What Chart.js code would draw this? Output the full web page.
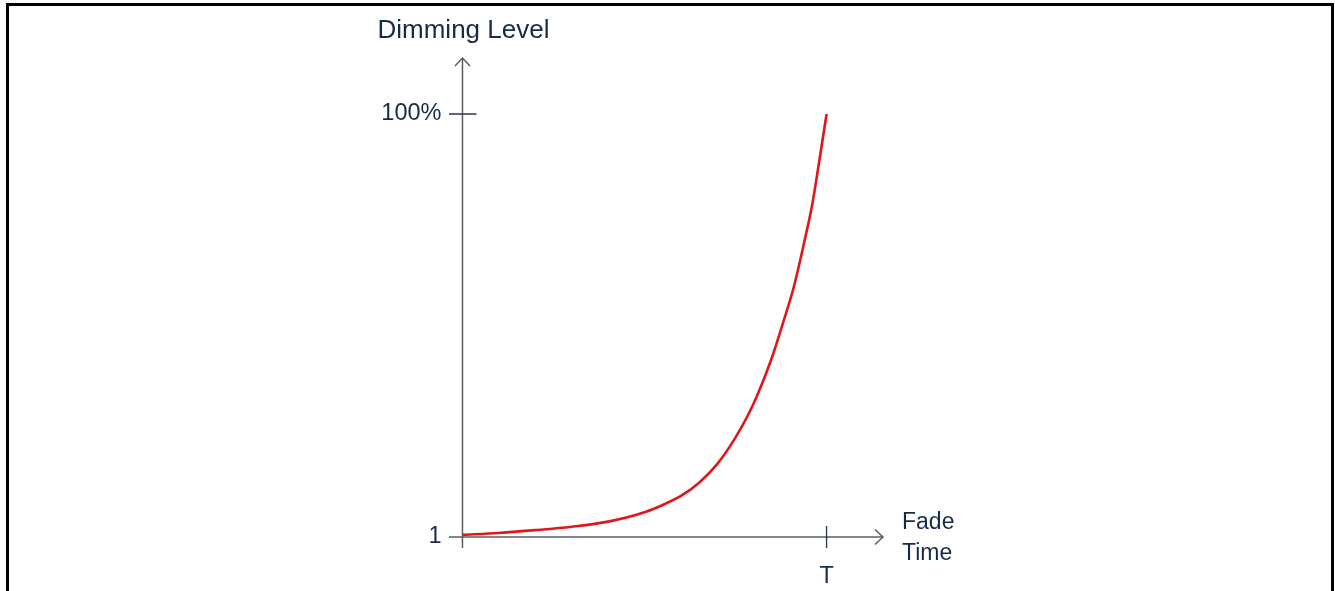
<!DOCTYPE html>
<html>
<head>
<meta charset="utf-8">
<script src="https://cdn.jsdelivr.net/npm/chart.js@4.4.0/dist/chart.umd.min.js"></script>
<style>
  html, body { margin: 0; padding: 0; background: #fff; }
  #wrap { position: relative; width: 1335px; height: 591px; overflow: hidden; }
  #frame { position: absolute; left: 6px; top: 3px; width: 1322px; height: 700px;
           border: 3px solid #000; box-sizing: content-box; }
  canvas { position: absolute; left: 0; top: 0; }
</style>
</head>
<body>
<div id="wrap">
  <div id="frame"></div>
  <canvas id="fade" width="1335" height="591"></canvas>
</div>
<script>
// fade time (0..100 = T) and dimming level (1..100 %)
const fadeTime = [0, 10, 20, 30, 40, 50, 55, 60, 65, 70, 75, 80, 85, 88, 91, 94, 96, 98, 100];
const dimLevel = [1.5, 1.95, 2.6, 3.4, 4.6, 6.8, 8.5, 10.6, 13.7, 18.1, 24.3, 32.3, 43.0, 51.0, 59.5, 70.5, 78.5, 89.0, 100];

const yTickValues = [1, 100];
const yTickLabels = ["1", "100%"];
const xTickValues = [100];
const xTickLabels = ["T"];

const axisColor = "#5a5e64";
const tickColor = "#2a3550";
const textColor = "#172a4a";
const font = "\"Liberation Sans\", Arial, sans-serif";

const points = fadeTime.map((t, i) => ({ x: t, y: dimLevel[i] }));

const axesPlugin = {
  id: "arrowAxes",
  beforeDatasetsDraw(chart) {
    const ctx = chart.ctx;
    const xs = chart.scales.x, ys = chart.scales.y;
    const x0 = xs.getPixelForValue(0);
    const y0 = ys.getPixelForValue(1);
    const left = chart.chartArea.left, right = chart.chartArea.right;
    const top = chart.chartArea.top, bottom = chart.chartArea.bottom;

    ctx.save();
    ctx.strokeStyle = axisColor;
    ctx.lineWidth = 1.5;
    ctx.beginPath();
    // x axis + arrow
    ctx.moveTo(left, y0); ctx.lineTo(right, y0);
    ctx.moveTo(right - 8, y0 - 7.5); ctx.lineTo(right, y0); ctx.lineTo(right - 8, y0 + 7.5);
    // y axis + arrow
    ctx.moveTo(x0, bottom); ctx.lineTo(x0, top);
    ctx.moveTo(x0 - 7.5, top + 8); ctx.lineTo(x0, top); ctx.lineTo(x0 + 7.5, top + 8);
    ctx.stroke();

    // tick marks
    ctx.strokeStyle = tickColor;
    ctx.lineWidth = 1.3;
    ctx.beginPath();
    yTickValues.forEach(v => {
      if (v === 1) return;
      const py = ys.getPixelForValue(v);
      ctx.moveTo(x0 - 13.5, py); ctx.lineTo(x0 + 14, py);
    });
    xTickValues.forEach(v => {
      const px = xs.getPixelForValue(v);
      ctx.moveTo(px, y0 - 11); ctx.lineTo(px, y0 + 11);
    });
    ctx.stroke();

    // tick labels
    ctx.fillStyle = textColor;
    ctx.textBaseline = "alphabetic";
    ctx.font = "23.5px " + font;
    ctx.textAlign = "right";
    yTickValues.forEach((v, i) => {
      const py = ys.getPixelForValue(v);
      ctx.fillText(yTickLabels[i], x0 - 21, py + 6);
    });
    ctx.textAlign = "center";
    xTickValues.forEach((v, i) => {
      const px = xs.getPixelForValue(v);
      ctx.fillText(xTickLabels[i], px, y0 + 46);
    });

    // axis titles
    ctx.font = "26px " + font;
    ctx.textAlign = "center";
    ctx.fillText("Dimming Level", x0 + 1, top - 20);
    ctx.font = "23px " + font;
    ctx.textAlign = "left";
    ctx.fillText("Fade", right + 19, y0 - 8.5);
    ctx.fillText("Time", right + 19, y0 + 23);
    ctx.restore();
  }
};

new Chart(document.getElementById("fade"), {
  type: "scatter",
  data: {
    datasets: [{
      data: points,
      showLine: true,
      borderColor: "#e0161b",
      borderWidth: 2.6,
      pointRadius: 0,
      cubicInterpolationMode: "monotone"
    }]
  },
  options: {
    responsive: false,
    animation: false,
    devicePixelRatio: 1,
    layout: { padding: { left: 449, right: 452, top: 58, bottom: 43 } },
    plugins: { legend: { display: false }, tooltip: { enabled: false } },
    scales: {
      x: { type: "linear", display: false, min: -3.7, max: 115.5 },
      y: { type: "linear", display: false, min: -1.574, max: 113.1 }
    }
  },
  plugins: [axesPlugin]
});
</script>
</body>
</html>
